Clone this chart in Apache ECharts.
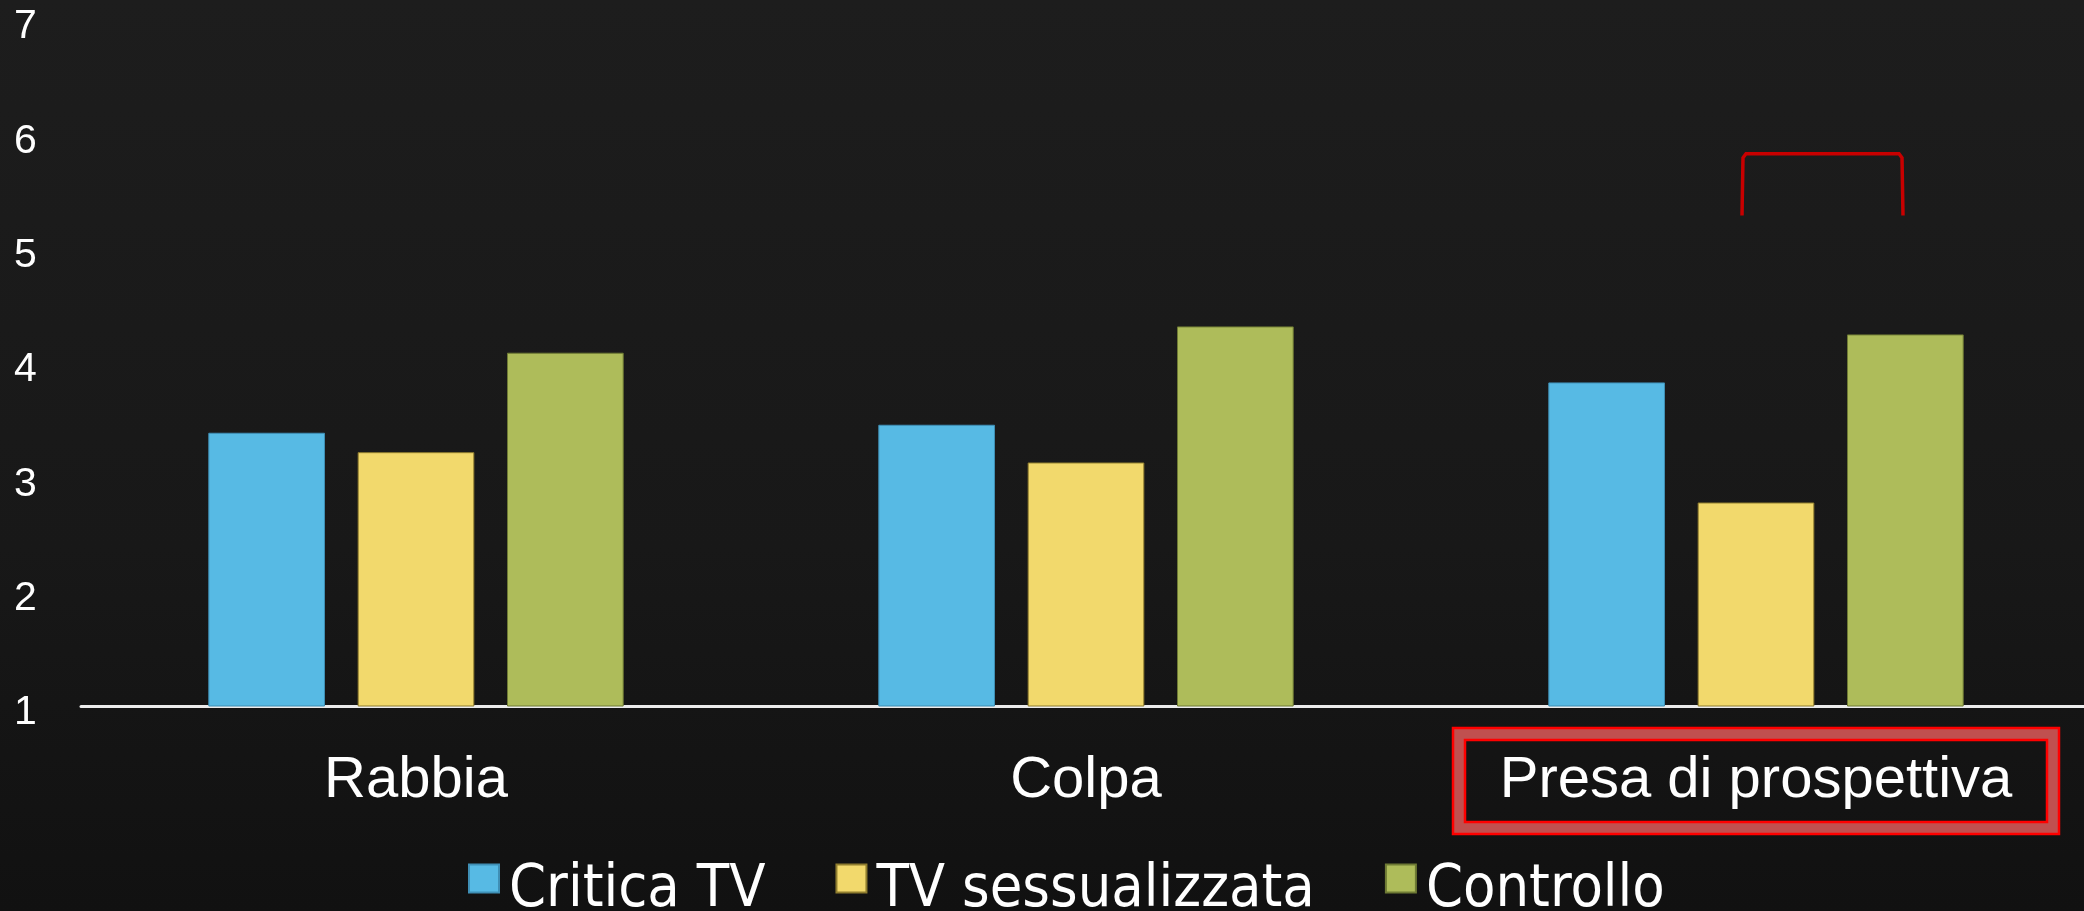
<!DOCTYPE html>
<html>
<head>
<meta charset="utf-8">
<script src="https://cdn.jsdelivr.net/npm/echarts@6/dist/echarts.min.js"></script>
<style>
  html, body { margin: 0; padding: 0; background: #171717; }
  #chart { width: 2084px; height: 911px; }
</style>
</head>
<body>
<div id="chart"></div>
<script>
// ---- data ----
const categories = ['Rabbia', 'Colpa', 'Presa di prospettiva'];
const seriesNames = ['Critica TV', 'TV sessualizzata', 'Controllo'];
const criticaTV = [3.39, 3.46, 3.83];
const tvSessualizzata = [3.22, 3.13, 2.78];
const controllo = [4.09, 4.32, 4.25];
const yTicks = [1, 2, 3, 4, 5, 6, 7];
const highlightedCategory = 'Presa di prospettiva';
const bracketTop = 5.83;
const bracketBottom = 5.29;

const colors = ['#57BAE4', '#F2D96C', '#AEBC5A'];
const borders = ['#3f8fb5', '#8f7d2e', '#6e7a34'];

const chart = echarts.init(document.getElementById('chart'), null, { renderer: 'canvas' });

const values = [criticaTV, tvSessualizzata, controllo];

const option = {
  backgroundColor: {
    type: 'linear', x: 0, y: 0, x2: 0, y2: 1,
    colorStops: [
      { offset: 0, color: '#1d1d1d' },
      { offset: 0.6, color: '#181818' },
      { offset: 1, color: '#111111' }
    ]
  },
  animation: false,
  grid: { left: 81, width: 2010, top: 20, bottom: 205, containLabel: false, outerBoundsMode: 'none' },
  legend: {
    data: seriesNames,
    left: 463,
    top: 856,
    padding: 5,
    icon: 'rect',
    itemWidth: 30,
    itemHeight: 28,
    itemGap: 70,
    formatter: name => '{t|' + name + '}',
    textStyle: {
      color: '#ffffff',
      fontSize: 59,
      fontFamily: "'Liberation Sans Narrow', 'DejaVu Sans Condensed', 'Liberation Sans', sans-serif",
      rich: {
        t: {
          color: '#ffffff',
          fontSize: 59,
          fontFamily: "'Liberation Sans Narrow', 'DejaVu Sans Condensed', 'Liberation Sans', sans-serif",
          padding: [24, 0, 0, 5]
        }
      }
    }
  },
  xAxis: {
    type: 'category',
    data: categories,
    axisLine: { show: true, lineStyle: { color: '#ececec', width: 3 } },
    axisTick: { show: false },
    axisLabel: {
      color: '#ffffff',
      fontSize: 58,
      fontFamily: "'Liberation Sans', Arial, sans-serif",
      margin: 46
    },
    splitLine: { show: false }
  },
  yAxis: {
    type: 'value',
    min: yTicks[0],
    max: yTicks[yTicks.length - 1],
    interval: 1,
    axisLine: { show: false },
    axisTick: { show: false },
    splitLine: { show: false },
    axisLabel: {
      align: 'left',
      margin: 67,
      formatter: '{v|{value}}',
      rich: {
        v: {
          color: '#ffffff',
          fontSize: 41,
          fontFamily: "'Liberation Sans', Arial, sans-serif",
          padding: [14, 0, 0, 0]
        }
      }
    }
  },
  series: seriesNames.map((name, i) => ({
    name: name,
    type: 'bar',
    data: values[i],
    barGap: '28%',
    barCategoryGap: '38%',
    itemStyle: { color: colors[i], borderColor: borders[i], borderWidth: 1 }
  }))
};

chart.setOption(option);

// ---- annotations: red box around highlighted label and bracket ----
function drawAnnotations() {
  const cx = chart.convertToPixel({ xAxisIndex: 0 }, highlightedCategory);
  const axisY = chart.convertToPixel({ yAxisIndex: 0 }, yTicks[0]);
  const yTop = chart.convertToPixel({ yAxisIndex: 0 }, bracketTop);
  const yBot = chart.convertToPixel({ yAxisIndex: 0 }, bracketBottom);

  const bw = 608, bh = 108;
  const bx = cx - bw / 2;
  const by = axisY + 21;
  const t = 14;

  const lx = cx - 14, rx = cx + 147;
  const r = 4;

  chart.setOption({
    graphic: [
      {
        type: 'rect', silent: true,
        shape: { x: bx + t / 2, y: by + t / 2, width: bw - t, height: bh - t },
        style: { fill: 'none', stroke: '#C0504F', lineWidth: t }
      },
      {
        type: 'rect', silent: true,
        shape: { x: bx + 1, y: by + 1, width: bw - 2, height: bh - 2 },
        style: { fill: 'none', stroke: '#FF0000', lineWidth: 2.5 }
      },
      {
        type: 'rect', silent: true,
        shape: { x: bx + t - 1, y: by + t - 1, width: bw - 2 * t + 2, height: bh - 2 * t + 2 },
        style: { fill: 'none', stroke: '#FF0000', lineWidth: 2.5 }
      },
      {
        type: 'polyline', silent: true,
        shape: {
          points: [
            [lx, yBot], [lx + 1, yTop + r], [lx + r, yTop],
            [rx - r, yTop], [rx - 1, yTop + r], [rx, yBot]
          ]
        },
        style: { fill: 'none', stroke: '#C80000', lineWidth: 3.5 }
      }
    ]
  });
}
drawAnnotations();
</script>
</body>
</html>
